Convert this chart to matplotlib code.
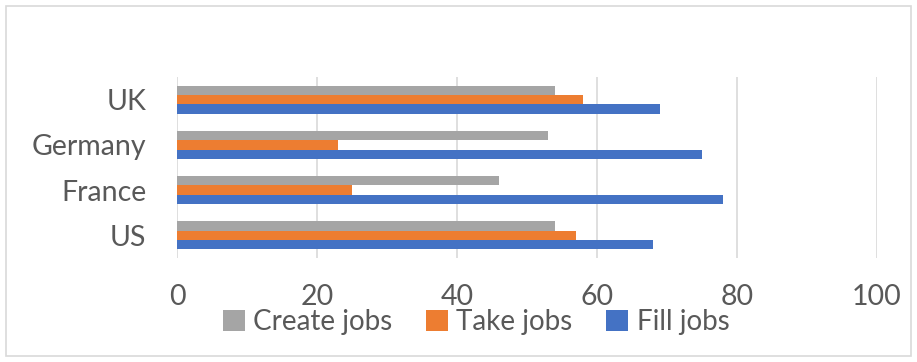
import matplotlib.pyplot as plt
import numpy as np
from matplotlib.patches import Rectangle

# data
countries = ['US', 'France', 'Germany', 'UK']
create_jobs = [54, 46, 53, 54]
take_jobs = [57, 25, 23, 58]
fill_jobs = [68, 78, 75, 69]

plt.rcParams['font.family'] = ['Lato', 'DejaVu Sans']
txt = '#595959'

fig = plt.figure(figsize=(9.17, 3.62), dpi=100)
ax = fig.add_axes([177/917, 1 - 258/362, 700/917, 181/362])

y = np.arange(len(countries))
h = 0.205
ax.barh(y + h, create_jobs, h, color='#A5A5A5', label='Create jobs', zorder=3)
ax.barh(y, take_jobs, h, color='#ED7D31', label='Take jobs', zorder=3)
ax.barh(y - h, fill_jobs, h, color='#4472C4', label='Fill jobs', zorder=3)

ax.set_xlim(0, 100)
ax.set_ylim(-0.5, 3.5)
ax.set_xticks(range(0, 101, 20))
ax.set_yticks(y, countries)
ax.grid(axis='x', color='#D9D9D9', linewidth=1.2, zorder=0)
for s in ax.spines.values():
    s.set_visible(False)
ax.tick_params(axis='both', length=0, labelsize=20.5, colors=txt)
ax.tick_params(axis='x', pad=19)
ax.tick_params(axis='y', pad=22)

leg = fig.legend(loc='center', bbox_to_anchor=(476/917, 1 - 322/362), ncol=3,
                 frameon=False, fontsize=20, handlelength=0.8, handleheight=0.8,
                 handletextpad=0.3, columnspacing=1.2, labelcolor=txt)

# light border around the chart area
fig.patches.append(Rectangle((6/917, 6/362), 905/917, 350/362, transform=fig.transFigure,
                             fill=False, edgecolor='#D9D9D9', linewidth=1.2))

fig.savefig('out.png', dpi=100)
